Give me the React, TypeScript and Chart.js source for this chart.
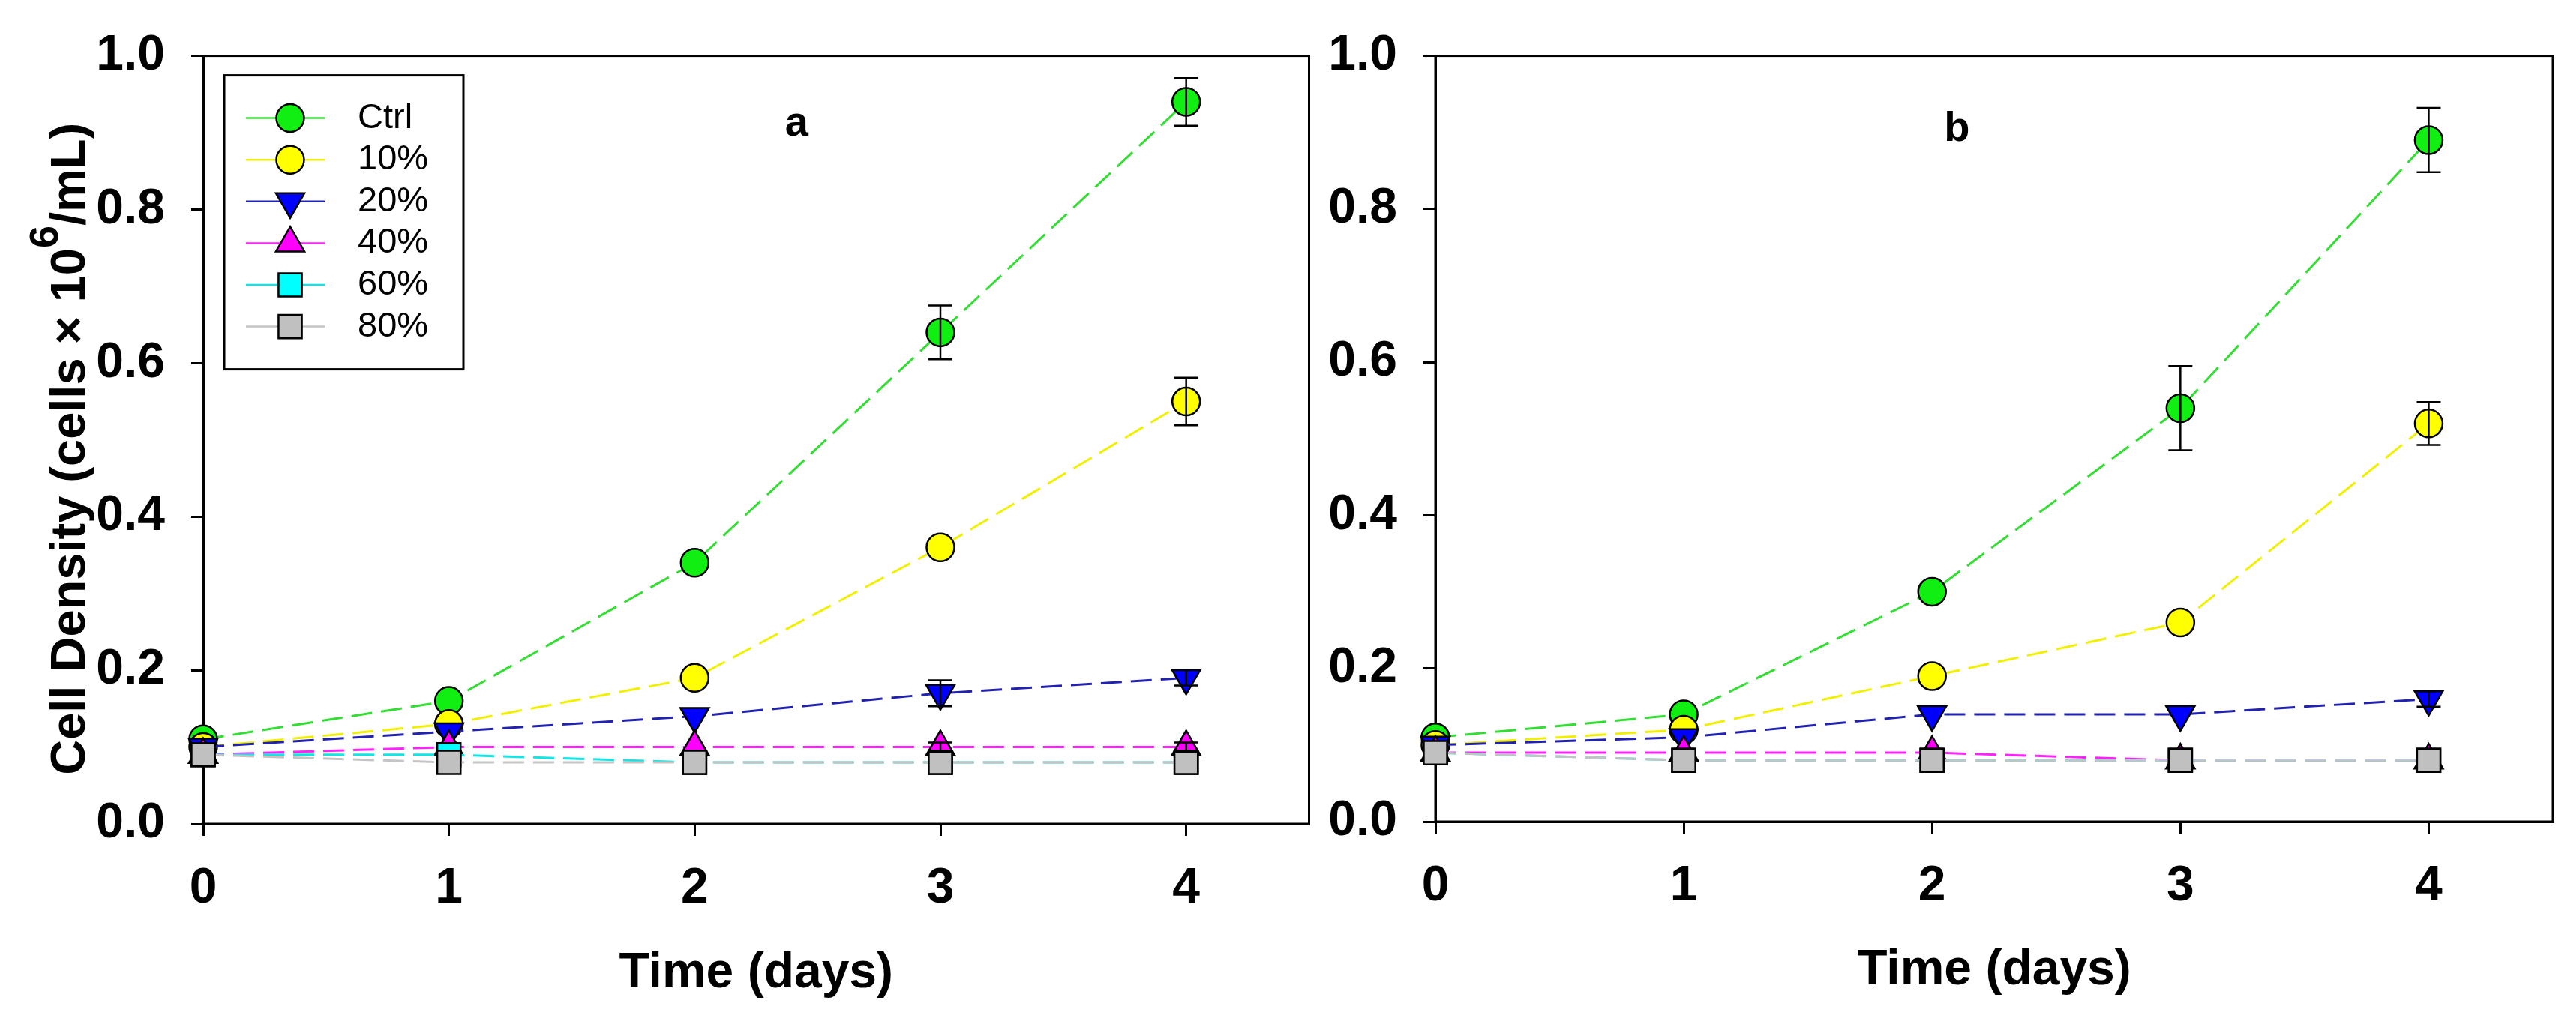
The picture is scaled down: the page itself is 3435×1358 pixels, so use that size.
import React, { useEffect, useRef } from 'react';
import Chart from 'chart.js/auto';

const days = [0, 1, 2, 3, 4];
const seriesNames = ['Ctrl', '10%', '20%', '40%', '60%', '80%'];

// panel a
const ctrlA = [0.11, 0.16, 0.34, 0.64, 0.94];
const p10A = [0.1, 0.13, 0.19, 0.36, 0.55];
const p20A = [0.1, 0.12, 0.14, 0.17, 0.19];
const p40A = [0.09, 0.1, 0.1, 0.1, 0.1];
const p60A = [0.09, 0.09, 0.08, 0.08, 0.08];
const p80A = [0.09, 0.08, 0.08, 0.08, 0.08];
const ctrlErrA = [0, 0, 0, 0.035, 0.031];
const p10ErrA = [0, 0, 0, 0, 0.031];
const p20ErrA = [0, 0, 0, 0.017, 0.01];
const p40ErrA = [0, 0, 0, 0.006, 0.006];
const p60ErrA = [0, 0, 0, 0, 0];
const p80ErrA = [0, 0, 0, 0, 0];

// panel b
const ctrlB = [0.11, 0.14, 0.3, 0.54, 0.89];
const p10B = [0.1, 0.12, 0.19, 0.26, 0.52];
const p20B = [0.1, 0.11, 0.14, 0.14, 0.16];
const p40B = [0.09, 0.09, 0.09, 0.08, 0.08];
const p60B = [0.09, 0.08, 0.08, 0.08, 0.08];
const p80B = [0.09, 0.08, 0.08, 0.08, 0.08];
const ctrlErrB = [0, 0, 0, 0.055, 0.042];
const p10ErrB = [0, 0, 0, 0, 0.028];
const p20ErrB = [0, 0, 0, 0, 0.01];
const p40ErrB = [0, 0, 0, 0, 0];
const p60ErrB = [0, 0, 0, 0, 0];
const p80ErrB = [0, 0, 0, 0, 0];

const FONT = '"Liberation Sans", Arial, Helvetica, sans-serif';

const seriesStyle = [
  { line: '#33dd33', fill: '#11ee11', shape: 'circle', rotation: 0, radius: 18.5 },
  { line: '#f0f000', fill: '#ffff00', shape: 'circle', rotation: 0, radius: 18.5 },
  { line: '#2222b0', fill: '#0000ff', shape: 'triangle', rotation: 180, radius: 22 },
  { line: '#ff22ff', fill: '#ff00ff', shape: 'triangle', rotation: 0, radius: 22 },
  { line: '#11e6e6', fill: '#00ffff', shape: 'rect', rotation: 0, radius: 22 },
  { line: '#c4c4c4', fill: '#c0c0c0', shape: 'rect', rotation: 0, radius: 22 },
];

interface PanelProps {
  values: number[][];
  errors: number[][];
  label: string;
  labelDay: number;
  labelValue: number;
  left: number;
  width: number;
  axisWidth: number;
  padTop: number;
  padRight: number;
  xAxisHeight: number;
  titleBottom: number;
  legend: boolean;
  yTitle: boolean;
}

function markerPath(ctx: CanvasRenderingContext2D, shape: string, rotation: number, x: number, y: number, r: number) {
  ctx.beginPath();
  if (shape === 'circle') {
    ctx.arc(x, y, r, 0, Math.PI * 2);
  } else if (shape === 'triangle') {
    const s = rotation === 180 ? -1 : 1;
    ctx.moveTo(x, y - s * r);
    ctx.lineTo(x + r * 0.866, y + s * r / 2);
    ctx.lineTo(x - r * 0.866, y + s * r / 2);
    ctx.closePath();
  } else {
    const h = r * Math.SQRT1_2;
    ctx.rect(x - h, y - h, 2 * h, 2 * h);
  }
}

const Panel: React.FC<PanelProps> = (p) => {
  const canvasRef = useRef<HTMLCanvasElement>(null);

  useEffect(() => {
    document.body.style.margin = '0';
    if (!canvasRef.current) return;
    const ctx = canvasRef.current.getContext('2d');
    if (!ctx) return;

    const framePlugin = {
      id: 'frame',
      beforeDatasetsDraw(chart: any) {
        const { ctx: c, chartArea: a } = chart;
        c.save();
        c.strokeStyle = '#000';
        c.lineWidth = 3;
        c.strokeRect(a.left, a.top, a.right - a.left, a.bottom - a.top);
        c.restore();
      },
    };

    const errorPlugin = {
      id: 'errorBars',
      afterDatasetsDraw(chart: any) {
        const c = chart.ctx;
        const xs = chart.scales.x;
        const ys = chart.scales.y;
        c.save();
        c.strokeStyle = '#000';
        c.lineWidth = 2.5;
        p.errors.forEach((errs, i) => {
          errs.forEach((e, j) => {
            if (!e) return;
            const v = p.values[i][j];
            const x = xs.getPixelForValue(days[j]);
            const y1 = ys.getPixelForValue(v + e);
            const y2 = ys.getPixelForValue(v - e);
            c.beginPath();
            c.moveTo(x, y1);
            c.lineTo(x, y2);
            c.moveTo(x - 16, y1);
            c.lineTo(x + 16, y1);
            c.moveTo(x - 16, y2);
            c.lineTo(x + 16, y2);
            c.stroke();
          });
        });
        c.restore();
      },
    };

    const decoPlugin = {
      id: 'deco',
      afterDraw(chart: any) {
        const c = chart.ctx as CanvasRenderingContext2D;
        const a = chart.chartArea;
        const xs = chart.scales.x;
        const ys = chart.scales.y;
        c.save();
        c.fillStyle = '#000';
        c.font = `bold 56px ${FONT}`;
        c.textAlign = 'center';
        c.textBaseline = 'alphabetic';
        c.fillText(p.label, xs.getPixelForValue(p.labelDay), ys.getPixelForValue(p.labelValue));

        if (p.legend) {
          const bx = a.left + 28;
          const by = a.top + 26;
          c.fillStyle = '#fff';
          c.fillRect(bx, by, 319, 392);
          c.strokeStyle = '#000';
          c.lineWidth = 3;
          c.strokeRect(bx, by, 319, 392);
          seriesNames.forEach((name, i) => {
            const st = seriesStyle[i];
            const y = a.top + 83 + i * 55.6;
            c.strokeStyle = st.line;
            c.lineWidth = 2.5;
            c.beginPath();
            c.moveTo(a.left + 57, y);
            c.lineTo(a.left + 162, y);
            c.stroke();
            markerPath(c, st.shape, st.rotation, a.left + 116, y, st.radius);
            c.fillStyle = st.fill;
            c.fill();
            c.strokeStyle = '#000';
            c.lineWidth = 2.5;
            c.stroke();
            c.fillStyle = '#000';
            c.font = `47px ${FONT}`;
            c.textAlign = 'left';
            c.textBaseline = 'middle';
            c.fillText(name, a.left + 206, y);
          });
        }

        if (p.yTitle) {
          const main = `bold 65px ${FONT}`;
          const sup = `bold 54px ${FONT}`;
          const t1 = 'Cell Density (cells × 10';
          const t2 = '6';
          const t3 = '/mL)';
          c.font = main;
          const w1 = c.measureText(t1).width;
          const w3 = c.measureText(t3).width;
          c.font = sup;
          const w2 = c.measureText(t2).width;
          const total = w1 + w2 + w3;
          c.translate(113, (a.top + a.bottom) / 2 + 12);
          c.rotate(-Math.PI / 2);
          c.fillStyle = '#000';
          c.textAlign = 'left';
          c.textBaseline = 'alphabetic';
          let x = -total / 2;
          c.font = main;
          c.fillText(t1, x, 0);
          x += w1;
          c.font = sup;
          c.fillText(t2, x, -36);
          x += w2;
          c.font = main;
          c.fillText(t3, x, 0);
        }
        c.restore();
      },
    };

    const datasets = seriesNames.map((name, i) => {
      const st = seriesStyle[i];
      return {
        label: name,
        data: days.map((d, j) => ({ x: d, y: p.values[i][j] })),
        borderColor: st.line,
        borderWidth: 3,
        borderDash: [28, 12],
        backgroundColor: st.fill,
        pointStyle: st.shape,
        pointRotation: st.rotation,
        pointRadius: st.radius,
        pointBackgroundColor: st.fill,
        pointBorderColor: '#000',
        pointBorderWidth: 2.5,
        fill: false,
        tension: 0,
        clip: false,
        order: seriesNames.length - i,
      };
    });

    const chart = new Chart(ctx, {
      type: 'line',
      data: { datasets } as any,
      options: {
        animation: false,
        responsive: false,
        events: [],
        layout: { padding: { left: 0, top: p.padTop, right: p.padRight, bottom: 0 } },
        plugins: { legend: { display: false }, tooltip: { enabled: false } },
        scales: {
          x: {
            type: 'linear',
            min: 0,
            max: 4.5,
            afterFit: (s: any) => {
              s.height = p.xAxisHeight;
            },
            ticks: {
              stepSize: 1,
              includeBounds: false,
              color: '#000',
              padding: 31,
              font: { family: FONT, size: 66, weight: 'bold' },
              callback: (v: any) => String(v),
            },
            grid: { drawOnChartArea: false, tickLength: 16, color: '#000', lineWidth: 3 },
            border: { display: true, color: '#000', width: 3 },
            title: {
              display: true,
              text: 'Time (days)',
              color: '#000',
              font: { family: FONT, size: 66, weight: 'bold' },
              padding: { top: 0, bottom: p.titleBottom },
            },
          },
          y: {
            type: 'linear',
            min: 0,
            max: 1,
            afterFit: (s: any) => {
              s.width = p.axisWidth;
            },
            ticks: {
              stepSize: 0.2,
              color: '#000',
              padding: 35,
              font: { family: FONT, size: 66, weight: 'bold' },
              callback: (v: any) => Number(v).toFixed(1),
            },
            grid: { drawOnChartArea: false, tickLength: 16, color: '#000', lineWidth: 3 },
            border: { display: true, color: '#000', width: 3 },
          },
        },
      } as any,
      plugins: [framePlugin, errorPlugin, decoPlugin],
    });

    return () => {
      chart.destroy();
    };
  }, []);

  return (
    <canvas
      ref={canvasRef}
      width={p.width}
      height={1358}
      style={{ position: 'absolute', left: p.left, top: 0, width: p.width, height: 1358 }}
    ></canvas>
  );
};

const App: React.FC = () => {
  return (
    <div style={{ position: 'relative', width: 3435, height: 1358, background: '#fff', overflow: 'hidden' }}>
      <Panel
        values={[ctrlA, p10A, p20A, p40A, p60A, p80A]}
        errors={[ctrlErrA, p10ErrA, p20ErrA, p40ErrA, p60ErrA, p80ErrA]}
        label="a"
        labelDay={2.415}
        labelValue={0.896}
        left={0}
        width={1770}
        axisWidth={271}
        padTop={59}
        padRight={9}
        xAxisHeight={259}
        titleBottom={20}
        legend={true}
        yTitle={true}
      />
      <Panel
        values={[ctrlB, p10B, p20B, p40B, p60B, p80B]}
        errors={[ctrlErrB, p10ErrB, p20ErrB, p40ErrB, p60ErrB, p80ErrB]}
        label="b"
        labelDay={2.1}
        labelValue={0.889}
        left={1770}
        width={1665}
        axisWidth={144}
        padTop={55}
        padRight={31}
        xAxisHeight={262}
        titleBottom={24}
        legend={false}
        yTitle={false}
      />
    </div>
  );
};

export default App;
